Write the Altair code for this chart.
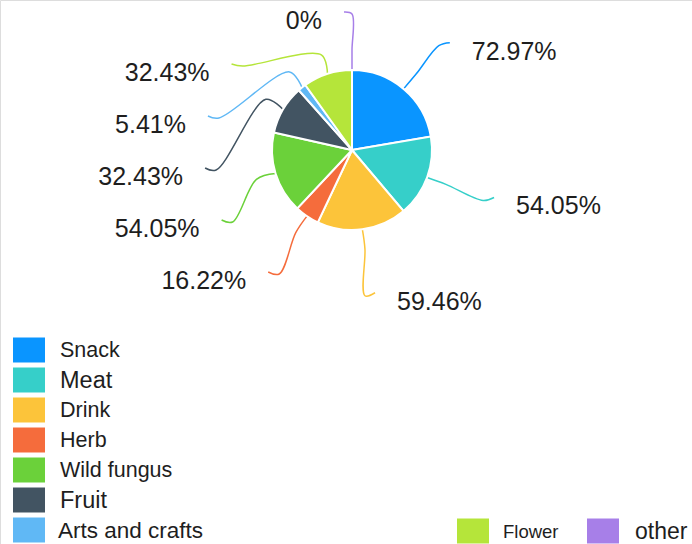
import math
import pandas as pd
import altair as alt

# ---- data ----
categories = ["Snack", "Meat", "Drink", "Herb", "Wild fungus", "Fruit",
              "Arts and crafts", "Flower", "other"]
values = [72.97, 54.05, 59.46, 16.22, 54.05, 32.43, 5.41, 32.43, 0]
colors = ["#0A95FF", "#36CFC9", "#FCC43A", "#F56C3C", "#6BD13A", "#425462",
          "#60B8F5", "#B5E53A", "#A77FE8"]

# ---- layout ----
W, H = 692, 544
CX, CY = 352, 150
R = 80
FONT = "Liberation Sans"
TXT = "#1e1e1e"

total = sum(values)
mids = []
cum = 0.0
for v in values:
    a0 = cum / total * 360
    cum += v
    a1 = cum / total * 360
    mids.append((a0 + a1) / 2)


def polar(r, a):
    t = math.radians(a)
    return CX + r * math.sin(t), CY - r * math.cos(t)


# label anchors: left-side labels are spread vertically, others follow the slice angle
left = sorted([i for i, m in enumerate(mids) if 180 < m < 350], key=lambda i: mids[i])
ends = {}
for k, i in enumerate(left):
    y = CY + 122 - 52 * k
    dy = y - CY
    ends[i] = (CX - math.sqrt(148 ** 2 - dy ** 2), y)
for i, m in enumerate(mids):
    if i not in ends:
        if values[i] > 0:
            x, y = polar(147, m)
            if y < CY:
                ends[i] = (x + 3, y + 5)
            else:
                ends[i] = (x + 4, y - 3)
        else:
            x, y = polar(138, m)
            ends[i] = (x - 8, y)

pie_df = pd.DataFrame({"cat": categories, "val": values, "idx": range(len(values))})

line_rows = []
lab_rows = []
for i, c in enumerate(categories):
    p0 = polar(R, mids[i])
    p1 = polar(R + 20, mids[i])
    p3 = ends[i]
    right = p3[0] > CX + 5
    d = 1 if right else -1
    shift = min(11, abs(p3[0] - p1[0]))
    p2 = (p3[0] - d * shift, p3[1] + (3 if right else 2))
    for j, p in enumerate([p0, p1, p2, p3]):
        line_rows.append({"cat": c, "o": j, "x": p[0], "y": p[1]})
    lab = f"{values[i]:g}%"
    lab_rows.append({"cat": c, "label": lab, "side": "R" if right else "L",
                     "x": p3[0] + (22 if right else -22), "y": p3[1] + 9})
line_df = pd.DataFrame(line_rows)
lab_df = pd.DataFrame(lab_rows)

# legend layout
leg_rows = []
for i, c in enumerate(categories):
    if i < 7:
        x0, yc, tx = 13, 350 + 30 * i, 60
        fs = 23.5 if c in ("Meat", "Fruit") else 21.5
        if c == "Arts and crafts":
            tx, fs = 58, 22.5
    else:
        x0 = 457 if c == "Flower" else 587
        yc = 531
        tx = x0 + 46 if c == "Flower" else x0 + 48
        fs = 18.5 if c == "Flower" else 23
    leg_rows.append({"cat": c, "x": x0, "x2": x0 + 32, "y": yc - 12.5, "y2": yc + 12.5,
                     "tx": tx, "ty": yc + 1, "fs": fs})
leg_df = pd.DataFrame(leg_rows)

xs = alt.Scale(domain=[0, W], nice=False, zero=False)
ys = alt.Scale(domain=[0, H], nice=False, zero=False, reverse=True)
col = alt.Color("cat:N", scale=alt.Scale(domain=categories, range=colors), legend=None)

pie = alt.Chart(pie_df).mark_arc(outerRadius=R, stroke="white", strokeWidth=2).encode(
    theta=alt.Theta("val:Q", stack=True),
    order=alt.Order("idx:Q"),
    color=col,
    x=alt.value(CX),
    y=alt.value(CY),
)

lines = alt.Chart(line_df).mark_line(interpolate="catmull-rom", strokeWidth=1.5).encode(
    x=alt.X("x:Q", scale=xs, axis=None),
    y=alt.Y("y:Q", scale=ys, axis=None),
    detail="cat:N",
    order="o:Q",
    color=col,
)

lab_r = alt.Chart(lab_df[lab_df.side == "R"]).mark_text(
    align="left", baseline="middle", font=FONT, fontSize=25, color=TXT
).encode(x=alt.X("x:Q", scale=xs, axis=None), y=alt.Y("y:Q", scale=ys, axis=None), text="label:N")

lab_l = alt.Chart(lab_df[lab_df.side == "L"]).mark_text(
    align="right", baseline="middle", font=FONT, fontSize=25, color=TXT
).encode(x=alt.X("x:Q", scale=xs, axis=None), y=alt.Y("y:Q", scale=ys, axis=None), text="label:N")

leg_sq = alt.Chart(leg_df).mark_rect().encode(
    x=alt.X("x:Q", scale=xs, axis=None), x2="x2:Q",
    y=alt.Y("y:Q", scale=ys, axis=None), y2="y2:Q",
    color=col,
)

leg_tx = alt.Chart(leg_df).mark_text(
    align="left", baseline="middle", font=FONT, color=TXT
).encode(
    x=alt.X("tx:Q", scale=xs, axis=None),
    y=alt.Y("ty:Q", scale=ys, axis=None),
    text="cat:N",
    size=alt.Size("fs:Q", scale=None, legend=None),
)

chart = alt.layer(lines, pie, lab_r, lab_l, leg_sq, leg_tx).properties(
    width=W, height=H, padding=0,
    autosize=alt.AutoSizeParams(type="none"),
).configure_view(stroke=None).configure(background="white")

chart.save("out.html", embed_options={"renderer": "svg", "actions": False})
